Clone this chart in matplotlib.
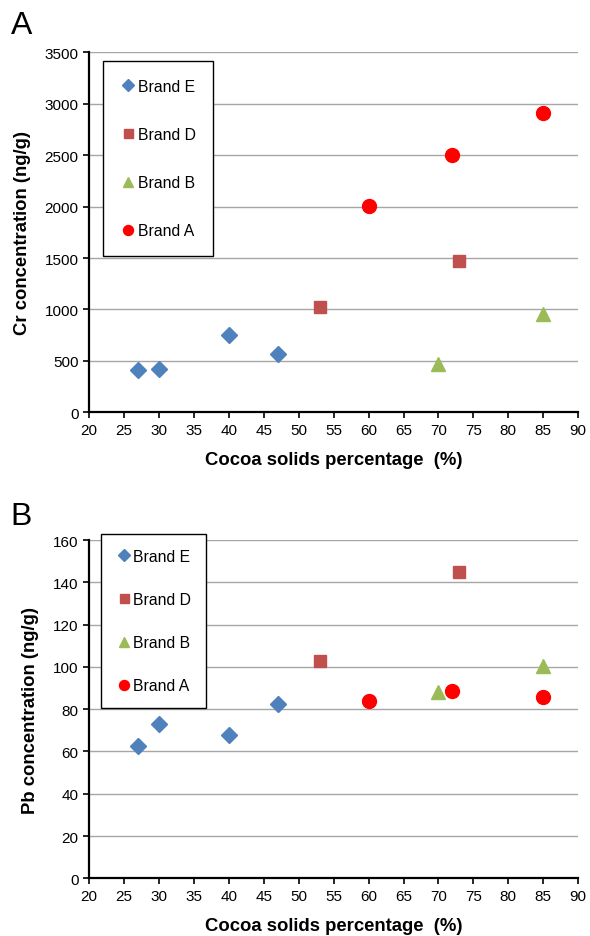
import matplotlib
matplotlib.use("Agg")
import matplotlib.pyplot as plt

plt.rcParams["font.family"] = ["Liberation Sans", "DejaVu Sans"]

# --- data ---
brands = ["Brand E", "Brand D", "Brand B", "Brand A"]
colors = ["#4F81BD", "#C0504D", "#9BBB59", "#FF0000"]
markers = ["D", "s", "^", "o"]
msizes = [8, 9, 10, 10]

cocoa_e = [27, 30, 40, 47]
cocoa_d = [53, 73]
cocoa_b = [70, 85]
cocoa_a = [60, 72, 85]

cr_e = [410, 425, 750, 565]
cr_d = [1020, 1475]
cr_b = [470, 960]
cr_a = [2005, 2500, 2910]

pb_e = [62.5, 73, 67.7, 82.5]
pb_d = [103, 145]
pb_b = [88, 100.5]
pb_a = [84, 88.5, 86]

xs = [cocoa_e, cocoa_d, cocoa_b, cocoa_a]
xticks = list(range(20, 95, 5))


def panel(ax, ys, ymax, ystep, ylabel, leg_anchor, lspace, bpad):
    for x, y, name, c, m, ms in zip(xs, ys, brands, colors, markers, msizes):
        ax.plot(x, y, ls="none", marker=m, ms=ms, color=c, mec=c, label=name,
                zorder=3, clip_on=False)
    ax.set_xlim(20, 90)
    ax.set_ylim(0, ymax)
    ax.set_xticks(xticks)
    ax.set_yticks(range(0, ymax + 1, ystep))
    ax.yaxis.grid(True, color="#A6A6A6", lw=1.0)
    ax.set_axisbelow(True)
    for s in ("top", "right"):
        ax.spines[s].set_visible(False)
    for s in ("left", "bottom"):
        ax.spines[s].set_linewidth(1.6)
    ax.tick_params(axis="both", labelsize=11, direction="out", length=4, width=1.2)
    ax.set_xlabel("Cocoa solids percentage  (%)", fontsize=13.3, fontweight="bold", labelpad=10)
    ax.set_ylabel(ylabel, fontsize=13.3, fontweight="bold", labelpad=10)
    leg = ax.legend(loc="upper left", bbox_to_anchor=leg_anchor, fontsize=11.3,
                    labelspacing=lspace, handlelength=1.0, handletextpad=0.1,
                    borderpad=bpad, borderaxespad=0, fancybox=False, framealpha=1,
                    edgecolor="black", markerscale=0.72)
    leg.get_frame().set_linewidth(1.0)


fig = plt.figure(figsize=(5.9, 9.37), dpi=100)
axA = fig.add_axes([0.151, 0.559, 0.829, 0.384])
axB = fig.add_axes([0.151, 0.0615, 0.829, 0.3611])

panel(axA, [cr_e, cr_d, cr_b, cr_a], 3500, 500, "Cr concentration (ng/g)",
      (0.029, 0.975), 2.12, 1.1)
panel(axB, [pb_e, pb_d, pb_b, pb_a], 160, 20, "Pb concentration (ng/g)",
      (0.025, 1.019), 1.8, 0.95)

fig.text(0.018, 0.972, "A", fontsize=23, va="center", ha="left")
fig.text(0.018, 0.448, "B", fontsize=23, va="center", ha="left")

fig.savefig("out.png", dpi=100)
